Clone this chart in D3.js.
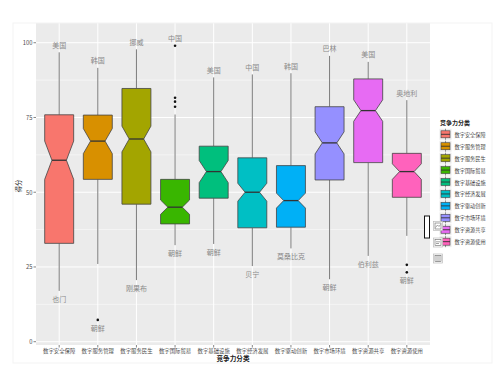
<!DOCTYPE html>
<html><head><meta charset="utf-8">
<script src="https://cdn.jsdelivr.net/npm/d3@7"></script>
<style>body{margin:0;background:#fff;}svg{display:block;font-family:"Noto Sans CJK SC",sans-serif;}</style>
</head><body>
<svg id="c" width="500" height="374"></svg>
<script>
const categories = ['数字安全保障','数字服务管理','数字服务民生','数字国际贸易','数字基础设施','数字经济发展','数字驱动创新','数字市场环境','数字资源共享','数字资源使用'];
const colors = ['#F8766D','#D89000','#A3A500','#39B600','#00BF7D','#00BFC4','#00B0F6','#9590FF','#E76BF3','#FF62BC'];
const whiskerLow = [17, 26, 20.6, 32.3, 32.7, 25.3, 31.2, 20.9, 28.7, 35.4];
const q1 = [32.9, 54.3, 46, 39.4, 48, 38.1, 38.3, 54.1, 59.9, 48.3];
const median = [60.7, 67.1, 67.8, 45, 56.9, 50, 47.2, 66.5, 77.3, 56.9];
const q3 = [75.9, 75.8, 84.7, 54.3, 65.4, 61.5, 58.9, 78.6, 87.9, 63];
const whiskerHigh = [96.8, 91.6, 97.8, 76, 88.4, 89.4, 89.8, 95.6, 93.6, 80.8];
const notch = [6.4, 4.2, 4.3, 2.4, 3.7, 3, 2.5, 3.7, 3.6, 2.6];
const outliers = [[], [7.3], [], [99, 81.6, 80.3, 78.6], [], [], [], [], [], [25.7, 23.2]];
const topLabels = ['美国','韩国','挪威','中国','美国','中国','韩国','巴林','美国','奥地利'];
const bottomLabels = ['也门','朝鲜','刚果布','朝鲜','朝鲜','贝宁','莫桑比克','朝鲜','伯利兹','朝鲜'];
const yTicks = [0, 25, 50, 75, 100];
const yMinor = [12.5, 37.5, 62.5, 87.5];
const xTitle = '竞争力分类';
const yTitle = '得分';
const legendTitle = '竞争力分类';

const svg = d3.select('#c');
const L = 36, R = 430, T = 23.3, B = 345;
const x = d3.scalePoint().domain(categories).range([L, R]).padding(0.6);
const y = d3.scaleLinear().domain([-1.1, 106.5]).range([B, T]);
const step = x.step();
const bw = step * 0.75;

// faint outer frame
svg.append('rect').attr('x', 13).attr('y', 23).attr('width', 479).attr('height', 340)
  .attr('fill', 'none').attr('stroke', '#f3f3f3').attr('stroke-width', 1);

// panel
svg.append('rect').attr('x', L).attr('y', T).attr('width', R - L).attr('height', B - T).attr('fill', '#EBEBEB');
const grid = svg.append('g');
yMinor.forEach(v => grid.append('line').attr('x1', L).attr('x2', R).attr('y1', y(v)).attr('y2', y(v)).attr('stroke', '#fff').attr('stroke-width', 0.5));
yTicks.forEach(v => grid.append('line').attr('x1', L).attr('x2', R).attr('y1', y(v)).attr('y2', y(v)).attr('stroke', '#fff').attr('stroke-width', 1));
categories.forEach(c => grid.append('line').attr('x1', x(c)).attr('x2', x(c)).attr('y1', T).attr('y2', B).attr('stroke', '#fff').attr('stroke-width', 1));

// boxes
const g = svg.append('g');
categories.forEach((c, i) => {
  const cx = x(c);
  const hw = bw / 2, nw = bw / 4;
  g.append('line').attr('x1', cx).attr('x2', cx).attr('y1', y(q3[i])).attr('y2', y(whiskerHigh[i])).attr('stroke', '#7a7a7a').attr('stroke-width', 1);
  g.append('line').attr('x1', cx).attr('x2', cx).attr('y1', y(q1[i])).attr('y2', y(whiskerLow[i])).attr('stroke', '#7a7a7a').attr('stroke-width', 1);
  const pts = [
    [cx - hw, y(q3[i])], [cx + hw, y(q3[i])], [cx + hw, y(median[i] + notch[i])], [cx + nw, y(median[i])],
    [cx + hw, y(median[i] - notch[i])], [cx + hw, y(q1[i])], [cx - hw, y(q1[i])], [cx - hw, y(median[i] - notch[i])],
    [cx - nw, y(median[i])], [cx - hw, y(median[i] + notch[i])]
  ];
  g.append('path').attr('d', d3.line()(pts) + 'Z').attr('fill', colors[i]).attr('stroke', '#444').attr('stroke-width', 0.8);
  g.append('line').attr('x1', cx - nw).attr('x2', cx + nw).attr('y1', y(median[i])).attr('y2', y(median[i])).attr('stroke', '#333').attr('stroke-width', 1.3);
  outliers[i].forEach(o => g.append('circle').attr('cx', cx).attr('cy', y(o)).attr('r', 1.3).attr('fill', '#111'));
  const top = d3.max([whiskerHigh[i], ...outliers[i]]);
  const bot = d3.min([whiskerLow[i], ...outliers[i]]);
  g.append('text').attr('x', cx).attr('y', y(top) - 7.5).attr('text-anchor', 'middle').attr('dominant-baseline', 'central')
    .attr('font-size', 7).attr('fill', '#8a8a8a').text(topLabels[i]);
  g.append('text').attr('x', cx).attr('y', y(bot) + 7.8).attr('text-anchor', 'middle').attr('dominant-baseline', 'central')
    .attr('font-size', 7).attr('fill', '#8a8a8a').text(bottomLabels[i]);
});

// axes
const ax = svg.append('g');
yTicks.forEach(v => {
  ax.append('line').attr('x1', L - 2.5).attr('x2', L).attr('y1', y(v)).attr('y2', y(v)).attr('stroke', '#333').attr('stroke-width', 0.6);
  ax.append('text').attr('x', L - 3.5).attr('y', y(v)).attr('text-anchor', 'end').attr('dominant-baseline', 'central')
    .attr('font-size', 5.8).attr('fill', '#4d4d4d').text(v);
});
categories.forEach(c => {
  ax.append('line').attr('x1', x(c)).attr('x2', x(c)).attr('y1', B).attr('y2', B + 2.5).attr('stroke', '#333').attr('stroke-width', 0.6);
  ax.append('text').attr('x', x(c)).attr('y', B + 5.5).attr('text-anchor', 'middle').attr('dominant-baseline', 'central')
    .attr('font-size', 5.4).attr('fill', '#4d4d4d').text(c);
});
svg.append('text').attr('x', (L + R) / 2).attr('y', 358).attr('text-anchor', 'middle').attr('dominant-baseline', 'central')
  .attr('font-size', 6.6).attr('font-weight', 'bold').attr('fill', '#222').text(xTitle);
svg.append('text').attr('transform', 'translate(18,186) rotate(-90)').attr('text-anchor', 'middle').attr('dominant-baseline', 'central')
  .attr('font-size', 6.6).attr('fill', '#222').text(yTitle);

// legend
const lg = svg.append('g');
lg.append('text').attr('x', 440).attr('y', 122.5).attr('dominant-baseline', 'central').attr('font-size', 6)
  .attr('font-weight', 'bold').attr('fill', '#222').text(legendTitle);
categories.forEach((c, i) => {
  const cy = 134.3 + i * 11.93;
  lg.append('rect').attr('x', 439.5).attr('y', cy - 5.5).attr('width', 12).attr('height', 11).attr('fill', '#EBEBEB');
  lg.append('line').attr('x1', 445.5).attr('x2', 445.5).attr('y1', cy - 5.5).attr('y2', cy + 5.5).attr('stroke', '#7a7a7a').attr('stroke-width', 0.8);
  lg.append('rect').attr('x', 441).attr('y', cy - 3.5).attr('width', 9).attr('height', 7).attr('fill', colors[i]).attr('stroke', '#444').attr('stroke-width', 0.6);
  lg.append('line').attr('x1', 441).attr('x2', 450).attr('y1', cy).attr('y2', cy).attr('stroke', '#333').attr('stroke-width', 0.9);
  lg.append('text').attr('x', 454.5).attr('y', cy).attr('dominant-baseline', 'central').attr('font-size', 5.2)
    .attr('fill', '#444').text(c);
});

// overlay widgets
const w = svg.append('g');
w.append('rect').attr('x', 424.5).attr('y', 216).attr('width', 5).attr('height', 22).attr('fill', '#fff').attr('stroke', '#111').attr('stroke-width', 1);
[221.5, 238, 254].forEach((yy, k) => {
  w.append('rect').attr('x', 433.5).attr('y', yy).attr('width', 9).attr('height', 9).attr('fill', '#fff').attr('stroke', '#bbb').attr('stroke-width', 0.7);
  if (k === 0) {
    w.append('rect').attr('x', 435).attr('y', yy + 1.5).attr('width', 6).attr('height', 6).attr('fill', 'none').attr('stroke', '#666').attr('stroke-width', 0.6);
    w.append('path').attr('d', `M435.5,${yy + 6} L437.5,${yy + 3.5} L439,${yy + 5} L440.5,${yy + 3}`).attr('fill', 'none').attr('stroke', '#666').attr('stroke-width', 0.6);
  } else if (k === 1) {
    w.append('rect').attr('x', 435).attr('y', yy + 1.5).attr('width', 6).attr('height', 6).attr('fill', 'none').attr('stroke', '#666').attr('stroke-width', 0.6);
    w.append('line').attr('x1', 436).attr('x2', 440).attr('y1', yy + 3.8).attr('y2', yy + 3.8).attr('stroke', '#666').attr('stroke-width', 0.6);
    w.append('line').attr('x1', 436).attr('x2', 439).attr('y1', yy + 5.5).attr('y2', yy + 5.5).attr('stroke', '#666').attr('stroke-width', 0.6);
  } else {
    w.append('rect').attr('x', 435).attr('y', yy + 1.5).attr('width', 6).attr('height', 6).attr('fill', 'none').attr('stroke', '#666').attr('stroke-width', 0.6);
    [437, 439].forEach(xx => w.append('line').attr('x1', xx).attr('x2', xx).attr('y1', yy + 1.5).attr('y2', yy + 7.5).attr('stroke', '#666').attr('stroke-width', 0.6));
  }
});
</script>
</body></html>
